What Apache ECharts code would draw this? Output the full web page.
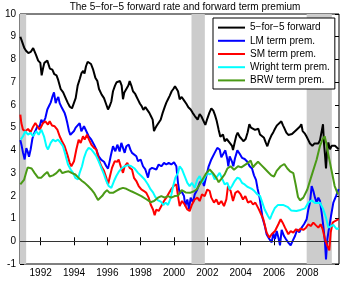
<!DOCTYPE html>
<html><head><meta charset="utf-8">
<script src="https://cdn.jsdelivr.net/npm/echarts@6/dist/echarts.min.js"></script>
<style>html,body{margin:0;padding:0;background:#fff}#c{width:341px;height:283px}</style>
</head><body><div id="c"></div>
<script>
const titleText = 'The 5\u2212for\u22125 forward rate and forward term premium';
const seriesNames = ['5\u2212for\u22125 forward', 'LM term prem.', 'SM term prem.', 'Wright term prem.', 'BRW term prem.'];
const xTicks = [1992, 1994, 1996, 1998, 2000, 2002, 2004, 2006, 2008];
const recessions = [[1990.76, 1991.13], [2001.05, 2001.85], [2007.96, 2009.47]];

const forward = [[1990.78,9.0],[1990.9,8.75],[1991.02,8.5],[1991.12,8.38],[1991.26,8.28],[1991.4,8.33],[1991.55,8.5],[1991.62,8.55],[1991.72,8.2],[1991.85,7.95],[1991.98,7.85],[1992.06,7.3],[1992.14,7.6],[1992.22,7.85],[1992.4,7.95],[1992.55,7.6],[1992.7,7.55],[1992.82,7.35],[1992.95,7.3],[1993.05,7.1],[1993.2,6.7],[1993.35,6.55],[1993.5,6.3],[1993.62,6.1],[1993.75,5.92],[1993.88,5.85],[1994.0,5.92],[1994.1,6.3],[1994.22,6.85],[1994.35,7.15],[1994.45,7.4],[1994.55,7.5],[1994.63,7.38],[1994.72,7.7],[1994.82,7.9],[1994.92,7.95],[1995.02,7.8],[1995.15,7.55],[1995.28,7.2],[1995.4,7.05],[1995.5,6.7],[1995.58,6.75],[1995.66,6.45],[1995.8,6.3],[1995.92,6.05],[1996.04,5.8],[1996.14,5.95],[1996.24,6.15],[1996.34,6.6],[1996.46,6.85],[1996.56,7.0],[1996.66,6.95],[1996.76,7.05],[1996.86,6.85],[1996.94,6.25],[1997.02,6.55],[1997.14,6.7],[1997.26,6.85],[1997.34,7.05],[1997.44,6.85],[1997.54,6.6],[1997.66,6.5],[1997.76,6.35],[1997.86,6.2],[1997.96,6.05],[1998.06,5.95],[1998.16,5.78],[1998.28,5.9],[1998.4,5.85],[1998.52,5.65],[1998.62,5.5],[1998.72,5.35],[1998.8,4.85],[1998.86,4.95],[1998.96,5.08],[1999.08,5.12],[1999.2,5.35],[1999.32,5.65],[1999.44,5.9],[1999.54,6.1],[1999.64,6.25],[1999.74,6.4],[1999.86,6.6],[1999.96,6.7],[2000.06,6.82],[2000.16,6.7],[2000.24,6.6],[2000.34,6.25],[2000.46,6.35],[2000.6,6.2],[2000.74,6.05],[2000.86,5.9],[2001.0,5.8],[2001.12,5.65],[2001.26,5.5],[2001.42,5.35],[2001.54,5.6],[2001.64,5.5],[2001.76,5.45],[2001.88,5.12],[2002.0,5.4],[2002.12,5.65],[2002.24,5.85],[2002.36,5.75],[2002.46,5.55],[2002.56,5.3],[2002.68,4.9],[2002.78,4.6],[2002.86,4.55],[2002.94,4.7],[2003.04,4.4],[2003.16,4.5],[2003.26,4.45],[2003.38,4.3],[2003.48,4.2],[2003.54,4.02],[2003.64,4.35],[2003.74,4.65],[2003.82,4.78],[2003.94,4.6],[2004.06,4.5],[2004.16,4.4],[2004.3,4.5],[2004.42,4.8],[2004.52,5.15],[2004.62,5.0],[2004.74,4.95],[2004.86,4.9],[2004.96,4.92],[2005.06,4.95],[2005.16,4.7],[2005.26,4.68],[2005.4,4.55],[2005.5,4.35],[2005.6,4.18],[2005.72,4.45],[2005.84,4.65],[2005.96,4.8],[2006.06,4.95],[2006.18,5.1],[2006.3,5.15],[2006.44,5.28],[2006.54,5.1],[2006.62,4.98],[2006.74,4.78],[2006.86,4.68],[2006.96,4.6],[2007.08,4.72],[2007.2,4.8],[2007.34,4.9],[2007.46,4.95],[2007.56,5.05],[2007.64,5.15],[2007.72,4.85],[2007.84,4.75],[2007.96,4.6],[2008.06,4.45],[2008.16,4.3],[2008.3,4.2],[2008.42,4.3],[2008.54,4.35],[2008.66,4.3],[2008.76,4.45],[2008.86,4.4],[2008.94,5.15],[2009.0,4.3],[2009.06,3.8],[2009.12,3.2],[2009.18,3.9],[2009.26,4.35],[2009.36,4.05],[2009.46,4.2],[2009.56,4.28],[2009.66,4.2],[2009.76,4.15],[2009.88,4.05]];

const lmPrem = [[1990.78,4.45],[1990.86,4.2],[1990.94,3.9],[1991.04,3.6],[1991.14,4.1],[1991.22,3.95],[1991.3,3.72],[1991.4,4.05],[1991.5,4.5],[1991.58,4.7],[1991.68,4.85],[1991.8,5.05],[1991.94,5.05],[1992.04,5.35],[1992.14,5.2],[1992.28,5.42],[1992.4,5.8],[1992.5,5.95],[1992.6,6.1],[1992.7,6.35],[1992.8,6.55],[1992.9,6.08],[1992.98,6.25],[1993.06,6.35],[1993.14,6.08],[1993.28,5.86],[1993.44,5.64],[1993.52,5.45],[1993.6,5.2],[1993.7,4.85],[1993.78,4.68],[1993.88,4.6],[1994.0,4.85],[1994.1,5.0],[1994.2,5.06],[1994.34,5.2],[1994.44,4.84],[1994.52,4.95],[1994.6,5.06],[1994.74,4.84],[1994.88,4.62],[1995.04,4.47],[1995.2,4.25],[1995.34,4.04],[1995.48,3.74],[1995.64,3.58],[1995.8,3.5],[1995.94,3.3],[1996.04,3.2],[1996.12,3.45],[1996.2,3.74],[1996.34,4.18],[1996.48,3.96],[1996.6,4.25],[1996.74,3.95],[1996.84,4.33],[1996.94,4.11],[1997.04,3.89],[1997.14,4.18],[1997.28,4.25],[1997.38,4.04],[1997.48,3.89],[1997.6,3.96],[1997.74,3.74],[1997.84,3.52],[1998.0,3.6],[1998.14,3.3],[1998.28,3.16],[1998.44,2.8],[1998.54,3.16],[1998.68,3.23],[1998.8,3.3],[1998.94,3.16],[1999.08,3.38],[1999.24,3.3],[1999.4,3.45],[1999.54,3.38],[1999.68,3.45],[1999.84,3.38],[2000.0,3.48],[2000.14,3.3],[2000.24,2.57],[2000.34,2.1],[2000.44,2.21],[2000.6,1.99],[2000.68,1.55],[2000.8,1.84],[2000.9,1.4],[2001.0,1.92],[2001.14,1.7],[2001.24,2.06],[2001.4,2.28],[2001.54,2.57],[2001.68,2.72],[2001.8,2.43],[2001.94,2.87],[2002.08,3.3],[2002.24,3.6],[2002.44,3.89],[2002.6,4.11],[2002.74,4.04],[2002.84,3.7],[2002.96,3.85],[2003.08,4.0],[2003.2,3.6],[2003.26,3.3],[2003.34,3.74],[2003.48,3.5],[2003.56,3.3],[2003.66,3.65],[2003.8,4.0],[2003.94,3.85],[2004.08,3.67],[2004.24,3.62],[2004.4,3.5],[2004.54,3.3],[2004.68,3.2],[2004.8,2.9],[2004.92,2.7],[2005.02,2.3],[2005.14,1.9],[2005.22,1.5],[2005.32,1.0],[2005.44,0.7],[2005.56,0.3],[2005.72,0.1],[2005.86,-0.05],[2005.96,0.35],[2006.06,0.1],[2006.16,0.45],[2006.26,0.18],[2006.36,-0.18],[2006.46,0.5],[2006.6,0.23],[2006.72,0.09],[2006.86,-0.06],[2007.0,-0.18],[2007.12,0.02],[2007.26,0.23],[2007.4,0.53],[2007.52,0.39],[2007.66,0.6],[2007.8,0.75],[2007.96,0.97],[2008.06,1.4],[2008.16,1.7],[2008.26,2.43],[2008.36,2.21],[2008.46,1.92],[2008.56,1.7],[2008.66,1.92],[2008.76,1.77],[2008.86,1.26],[2008.96,0.67],[2009.06,-0.06],[2009.12,-0.8],[2009.2,0.09],[2009.32,0.67],[2009.42,1.11],[2009.56,1.7],[2009.72,1.99],[2009.88,2.3]];

const smPrem = [[1990.78,5.57],[1990.84,5.2],[1990.94,4.91],[1991.08,4.84],[1991.24,4.94],[1991.4,4.8],[1991.54,5.03],[1991.68,5.2],[1991.8,5.06],[1991.94,4.91],[1992.04,4.84],[1992.14,5.2],[1992.28,5.28],[1992.44,5.13],[1992.54,5.28],[1992.68,5.09],[1992.84,5.06],[1993.0,4.91],[1993.14,4.62],[1993.28,4.4],[1993.44,4.18],[1993.6,3.82],[1993.74,3.45],[1993.84,3.3],[1994.0,3.52],[1994.14,4.04],[1994.28,4.47],[1994.4,4.33],[1994.54,4.62],[1994.64,4.47],[1994.78,4.69],[1994.9,4.47],[1995.04,4.25],[1995.2,4.11],[1995.34,4.04],[1995.48,3.6],[1995.64,3.3],[1995.8,3.1],[1995.94,2.79],[1996.04,2.5],[1996.16,2.87],[1996.28,3.23],[1996.44,3.52],[1996.6,3.5],[1996.68,3.6],[1996.8,3.3],[1996.94,3.01],[1997.04,3.3],[1997.2,3.45],[1997.34,3.23],[1997.48,3.16],[1997.6,2.79],[1997.74,2.65],[1997.88,2.43],[1998.04,2.28],[1998.2,2.21],[1998.34,2.13],[1998.48,1.92],[1998.6,1.62],[1998.74,1.4],[1998.84,1.15],[1998.94,1.4],[1999.08,1.33],[1999.24,1.55],[1999.4,1.77],[1999.54,1.92],[1999.68,2.1],[1999.84,2.3],[2000.0,2.45],[2000.14,2.5],[2000.24,1.99],[2000.34,1.55],[2000.48,1.77],[2000.64,1.62],[2000.8,1.4],[2000.94,1.33],[2001.08,1.62],[2001.24,1.84],[2001.4,1.92],[2001.54,1.77],[2001.68,2.06],[2001.84,1.99],[2002.0,2.28],[2002.14,2.21],[2002.24,1.92],[2002.4,1.7],[2002.54,1.84],[2002.68,1.62],[2002.84,1.77],[2003.0,1.55],[2003.14,1.84],[2003.24,2.43],[2003.4,2.21],[2003.54,1.77],[2003.68,2.13],[2003.84,2.21],[2004.0,2.06],[2004.14,1.84],[2004.28,1.99],[2004.44,1.7],[2004.6,1.77],[2004.74,1.62],[2004.88,1.7],[2005.04,1.48],[2005.16,1.3],[2005.36,0.97],[2005.56,0.38],[2005.72,0.16],[2005.86,0.31],[2006.06,0.45],[2006.26,0.75],[2006.4,0.97],[2006.52,0.82],[2006.66,0.6],[2006.86,0.31],[2007.0,0.45],[2007.16,0.38],[2007.32,0.53],[2007.46,0.45],[2007.6,0.56],[2007.76,0.5],[2007.92,0.6],[2008.06,0.75],[2008.2,0.67],[2008.36,0.82],[2008.52,0.7],[2008.66,0.6],[2008.8,0.75],[2008.92,0.53],[2009.06,0.09],[2009.2,-0.2],[2009.32,-0.4],[2009.4,0.38],[2009.52,0.82],[2009.66,0.89],[2009.88,0.97]];

const wrightPrem = [[1990.8,4.47],[1990.94,4.62],[1991.08,4.84],[1991.24,4.69],[1991.4,4.77],[1991.54,4.62],[1991.74,4.84],[1991.88,4.69],[1992.04,4.91],[1992.2,4.62],[1992.34,4.18],[1992.44,4.04],[1992.6,4.33],[1992.74,4.47],[1992.88,4.4],[1993.04,4.47],[1993.2,4.33],[1993.34,4.18],[1993.48,3.82],[1993.64,3.38],[1993.8,3.16],[1993.94,3.01],[1994.08,2.79],[1994.24,2.72],[1994.34,3.01],[1994.48,3.3],[1994.6,3.67],[1994.74,3.96],[1994.88,4.11],[1995.04,4.04],[1995.2,3.89],[1995.34,3.74],[1995.48,3.52],[1995.64,3.23],[1995.8,2.94],[1995.94,2.65],[1996.08,2.43],[1996.24,2.35],[1996.4,2.65],[1996.54,2.87],[1996.68,3.05],[1996.84,3.2],[1997.04,3.3],[1997.24,3.35],[1997.44,3.3],[1997.64,3.2],[1997.84,3.01],[1998.04,2.87],[1998.24,2.72],[1998.44,2.5],[1998.6,2.28],[1998.74,2.15],[1998.88,1.95],[1999.04,1.8],[1999.2,1.75],[1999.36,1.6],[1999.5,1.7],[1999.64,1.6],[1999.8,1.9],[1999.94,2.4],[2000.08,2.8],[2000.24,3.01],[2000.34,3.3],[2000.48,3.16],[2000.64,2.87],[2000.8,2.57],[2000.94,2.43],[2001.08,2.57],[2001.24,2.35],[2001.4,2.72],[2001.54,2.87],[2001.68,2.57],[2001.84,2.79],[2002.0,3.01],[2002.14,2.94],[2002.28,3.01],[2002.44,2.72],[2002.6,2.87],[2002.74,3.01],[2002.86,2.8],[2003.04,2.5],[2003.2,2.57],[2003.34,2.28],[2003.48,2.43],[2003.64,2.65],[2003.8,2.8],[2003.94,2.75],[2004.08,2.57],[2004.24,2.5],[2004.4,2.4],[2004.54,2.35],[2004.68,2.3],[2004.84,2.2],[2005.0,2.06],[2005.16,2.0],[2005.3,1.7],[2005.44,1.4],[2005.64,1.11],[2005.76,0.97],[2005.88,1.2],[2006.04,1.45],[2006.24,1.6],[2006.54,1.6],[2006.84,1.5],[2007.04,1.35],[2007.34,1.33],[2007.6,1.38],[2007.86,1.45],[2008.06,1.7],[2008.26,1.8],[2008.46,1.68],[2008.76,1.7],[2008.96,1.4],[2009.12,1.04],[2009.26,0.6],[2009.4,0.65],[2009.56,0.72],[2009.76,0.53],[2009.88,0.58]];

const brwPrem = [[1990.78,2.5],[1990.88,2.42],[1991.0,2.7],[1991.12,3.0],[1991.22,3.25],[1991.34,3.28],[1991.46,3.2],[1991.64,3.0],[1991.84,2.8],[1992.04,2.8],[1992.24,2.95],[1992.4,3.05],[1992.54,2.85],[1992.74,2.9],[1992.94,3.0],[1993.14,3.16],[1993.3,3.0],[1993.48,3.05],[1993.68,3.08],[1993.88,3.0],[1994.08,2.94],[1994.28,2.79],[1994.48,2.65],[1994.64,2.57],[1994.84,2.43],[1995.04,2.28],[1995.2,2.13],[1995.34,1.95],[1995.44,1.82],[1995.56,1.9],[1995.7,2.0],[1995.84,2.15],[1995.98,2.25],[1996.14,2.13],[1996.34,2.13],[1996.54,2.22],[1996.74,2.3],[1996.94,2.35],[1997.14,2.31],[1997.44,2.2],[1997.74,2.1],[1998.04,1.99],[1998.34,1.85],[1998.6,1.72],[1998.8,1.77],[1999.04,1.92],[1999.24,1.99],[1999.44,1.92],[1999.64,1.99],[1999.84,1.92],[2000.04,1.99],[2000.24,2.0],[2000.46,2.25],[2000.7,2.15],[2000.96,2.13],[2001.2,2.2],[2001.36,2.28],[2001.54,2.5],[2001.74,2.75],[2001.94,3.0],[2002.14,3.16],[2002.34,3.0],[2002.54,2.79],[2002.68,2.6],[2002.84,2.75],[2003.04,2.94],[2003.2,3.2],[2003.4,3.3],[2003.6,3.15],[2003.84,3.3],[2004.04,3.25],[2004.24,3.35],[2004.44,3.45],[2004.6,3.55],[2004.74,3.25],[2004.88,3.38],[2005.04,3.5],[2005.24,3.35],[2005.44,3.2],[2005.64,3.05],[2005.84,2.9],[2006.0,2.85],[2006.16,3.1],[2006.4,3.3],[2006.62,3.4],[2006.8,3.2],[2006.96,3.08],[2007.16,3.0],[2007.3,2.5],[2007.44,1.95],[2007.56,1.8],[2007.76,1.92],[2008.0,2.28],[2008.26,2.9],[2008.56,3.6],[2008.76,4.2],[2008.92,4.5],[2009.04,4.62],[2009.14,4.3],[2009.24,3.89],[2009.44,3.16],[2009.64,2.43],[2009.84,2.06]];

const seriesData = [forward, lmPrem, smPrem, wrightPrem, brwPrem];
const colors = ['#000000', '#0000ff', '#ff0000', '#00ffff', '#4a9a16'];

const FONT = 'Liberation Sans';
const X_MIN = 1990.76, X_MAX = 2009.9;
const chart = echarts.init(document.getElementById('c'), null, {renderer: 'canvas'});

const series = seriesData.map((d, i) => ({
  name: seriesNames[i], type: 'line', data: d, symbol: 'none', showSymbol: false,
  xAxisIndex: 0, yAxisIndex: 0, silent: true, animation: false,
  lineStyle: {color: colors[i], width: 2}, itemStyle: {color: colors[i]}, z: 3 + i
}));
series[0].markArea = {
  silent: true, itemStyle: {color: '#cccccc'},
  data: recessions.map(r => [{xAxis: r[0]}, {xAxis: r[1]}])
};
series[0].markLine = {
  silent: true, symbol: 'none', label: {show: false},
  lineStyle: {color: '#333333', width: 1, type: 'solid'},
  data: [{yAxis: 0}]
};

const tickStyle = {show: true, inside: true, length: 4, lineStyle: {color: '#000', width: 1}};
chart.setOption({
  animation: false,
  backgroundColor: '#ffffff',
  title: {text: titleText, left: 180, textAlign: 'center', top: -3,
    textStyle: {fontFamily: FONT, fontSize: 10, fontWeight: 'normal', color: '#000'}},
  grid: {left: 20, right: 2, top: 14, bottom: 19, show: true, borderColor: '#000', borderWidth: 1,
    backgroundColor: 'transparent', containLabel: false, outerBoundsMode: 'none'},
  legend: {
    orient: 'vertical', left: 213, top: 18,
    icon: 'rect', itemWidth: 27, itemHeight: 2, itemGap: 0,
    padding: [3, 5, 2, 5],
    borderColor: '#000', borderWidth: 1, backgroundColor: '#fff',
    textStyle: {fontFamily: FONT, fontSize: 10, color: '#000', lineHeight: 13.2},
    data: seriesNames, selectedMode: false
  },
  xAxis: [
    {type: 'value', min: X_MIN, max: X_MAX, position: 'bottom',
     axisLine: {show: false}, splitLine: {show: false},
     axisTick: Object.assign({customValues: xTicks}, tickStyle),
     axisLabel: {customValues: xTicks, fontFamily: FONT, fontSize: 10, color: '#000', margin: 4, formatter: v => String(v)}},
    {type: 'value', min: X_MIN, max: X_MAX, position: 'top',
     axisLine: {show: false}, splitLine: {show: false},
     axisTick: Object.assign({customValues: xTicks}, tickStyle),
     axisLabel: {show: false}}
  ],
  yAxis: [
    {type: 'value', min: -1, max: 10, interval: 1, position: 'left',
     name: '%', nameLocation: 'middle', nameGap: 14, nameRotate: 0,
     nameTextStyle: {fontFamily: FONT, fontSize: 10, color: '#000'},
     axisLine: {show: false}, splitLine: {show: false}, axisTick: tickStyle,
     axisLabel: {fontFamily: FONT, fontSize: 10, color: '#000', margin: 4}},
    {type: 'value', min: -1, max: 10, interval: 1, position: 'right',
     axisLine: {show: false}, splitLine: {show: false}, axisTick: tickStyle,
     axisLabel: {show: false}}
  ],
  series: series
});
</script></body></html>
